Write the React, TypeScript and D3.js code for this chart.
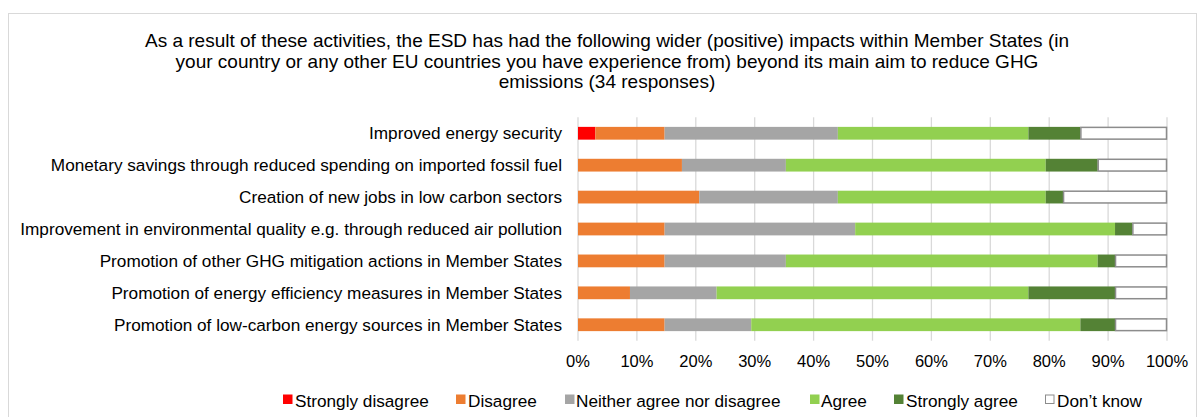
import React from "react";
import * as d3 from "d3";

const TOTAL_RESPONSES = 34;

const categories = [
  "Improved energy security",
  "Monetary savings through reduced spending on imported fossil fuel",
  "Creation of new jobs in low carbon sectors",
  "Improvement in environmental quality e.g. through reduced air pollution",
  "Promotion of other GHG mitigation actions in Member States",
  "Promotion of energy efficiency measures in Member States",
  "Promotion of low-carbon energy sources in Member States",
];

const seriesNames = [
  "Strongly disagree",
  "Disagree",
  "Neither agree nor disagree",
  "Agree",
  "Strongly agree",
  "Don\u2019t know",
];

// response counts (out of 34) per category
const stronglyDisagree = [1, 0, 0, 0, 0, 0, 0];
const disagree = [4, 6, 7, 5, 5, 3, 5];
const neither = [10, 6, 8, 11, 7, 5, 5];
const agree = [11, 15, 12, 15, 18, 18, 19];
const stronglyAgree = [3, 3, 1, 1, 1, 5, 2];
const dontKnow = [5, 4, 6, 2, 3, 3, 3];

const seriesValues = [stronglyDisagree, disagree, neither, agree, stronglyAgree, dontKnow];

const tickValues = [0, 0.1, 0.2, 0.3, 0.4, 0.5, 0.6, 0.7, 0.8, 0.9, 1.0];

const titleLines = [
  "As a result of these activities, the ESD has had the following wider (positive) impacts within Member States (in",
  "your country or any other EU countries you have experience from) beyond its main aim to reduce GHG",
  "emissions (34 responses)",
];

const colors = ["#FF0000", "#ED7D31", "#A5A5A5", "#92D050", "#548235", "#FFFFFF"];
const strokes = ["none", "none", "none", "none", "none", "#8C8C8C"];

const FONT = "'Liberation Sans', Arial, Helvetica, sans-serif";

export default function App() {
  const W = 1197;
  const H = 417;
  const x = d3.scaleLinear().domain([0, 1]).range([578, 1167]);
  const y = d3
    .scaleBand<string>()
    .domain(categories)
    .range([117.3, 340.7])
    .paddingInner(0.6)
    .paddingOuter(0.3);

  const rows = categories.map((c, i) => {
    const counts = seriesValues.map((s) => s[i]);
    const fractions = counts.map((v) => v / TOTAL_RESPONSES);
    let acc = 0;
    const segs = fractions.map((f, k) => {
      const s = { k, x0: acc, x1: acc + f };
      acc += f;
      return s;
    });
    return { c, segs };
  });

  const legendItems = [
    { sq: 283, tx: 295 },
    { sq: 456, tx: 468 },
    { sq: 565, tx: 576 },
    { sq: 810, tx: 821 },
    { sq: 894, tx: 906 },
    { sq: 1045, tx: 1057 },
  ];

  return (
    <svg
      width={W}
      height={H}
      style={{ position: "absolute", left: 0, top: 0, background: "#fff" }}
      fontFamily={FONT}
    >
      <rect x={8.5} y={13.5} width={1188} height={420} fill="#fff" stroke="#D9D9D9" strokeWidth={1} />
      {titleLines.map((t, i) => (
        <text key={i} x={607} y={47 + i * 20.5} textAnchor="middle" fontSize={19} fill="#000">
          {t}
        </text>
      ))}
      {tickValues.map((t) => (
        <line
          key={t}
          x1={x(t)}
          x2={x(t)}
          y1={117.3}
          y2={340.7}
          stroke="#D9D9D9"
          strokeWidth={1.3}
        />
      ))}
      {rows.map((r) =>
        r.segs.map((s) =>
          s.x1 - s.x0 > 0 ? (
            <rect
              key={r.c + s.k}
              x={x(s.x0) + (strokes[s.k] !== "none" ? 0.5 : 0)}
              y={y(r.c)! + (strokes[s.k] !== "none" ? 0.5 : 0)}
              width={x(s.x1) - x(s.x0) - (strokes[s.k] !== "none" ? 1 : 0)}
              height={y.bandwidth() - (strokes[s.k] !== "none" ? 1 : 0)}
              fill={colors[s.k]}
              stroke={strokes[s.k]}
              strokeWidth={1.5}
            />
          ) : null
        )
      )}
      {categories.map((c) => (
        <text
          key={c}
          x={562}
          y={y(c)! + y.bandwidth() / 2 + 6}
          textAnchor="end"
          fontSize={17.2}
          fill="#000"
        >
          {c}
        </text>
      ))}
      {tickValues.map((t) => (
        <text key={"t" + t} x={x(t)} y={366.5} textAnchor="middle" fontSize={16.5} fill="#000">
          {d3.format(".0%")(t)}
        </text>
      ))}
      {seriesNames.map((n, i) => (
        <g key={n}>
          <rect
            x={legendItems[i].sq + (i === 5 ? 0.5 : 0)}
            y={394.5 + (i === 5 ? 0.5 : 0)}
            width={i === 5 ? 8.5 : 9.5}
            height={i === 5 ? 8.5 : 9.5}
            fill={colors[i]}
            stroke={strokes[i]}
            strokeWidth={1}
          />
          <text x={legendItems[i].tx} y={406.5} fontSize={17.2} fill="#000">
            {n}
          </text>
        </g>
      ))}
    </svg>
  );
}
